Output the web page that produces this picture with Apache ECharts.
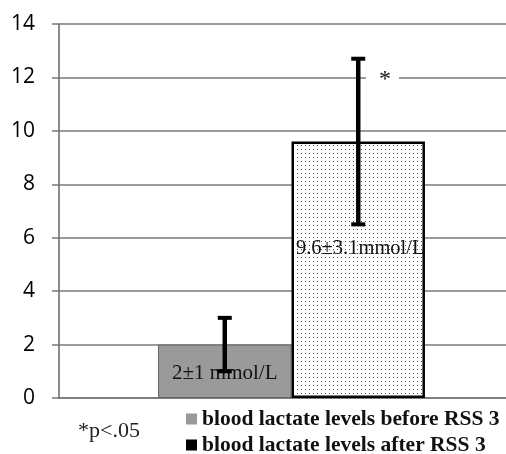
<!DOCTYPE html>
<html><head><meta charset="utf-8">
<script src="https://cdn.jsdelivr.net/npm/echarts@6/dist/echarts.min.js"></script>
<style>html,body{margin:0;padding:0;background:#fff}#c{width:506px;height:454px}</style>
</head><body><div id="c"></div>
<script>
var categories = [''];
var seriesNames = ['blood lactate levels before RSS 3', 'blood lactate levels after RSS 3'];
var beforeValues = [2];
var afterValues = [9.6];
var beforeErr = [[1, 3]];
var afterErr = [[6.5, 12.7]];
var barLabels = ['2±1 mmol/L', '9.6±3.1mmol/L'];
var yTicks = [0, 2, 4, 6, 8, 10, 12, 14];

var GAP = 0.426;
var pat = document.createElement('canvas');
pat.width = 4; pat.height = 4;
var pc = pat.getContext('2d');
pc.fillStyle = '#fff'; pc.fillRect(0, 0, 4, 4);
pc.fillStyle = '#555'; pc.fillRect(1, 1, 1, 1);

var chart = echarts.init(document.getElementById('c'), null, {renderer: 'canvas'});

function errRender(errArr, side) {
  return function (params, api) {
    var i = params.dataIndex;
    var lo = api.coord([i, errArr[i][0]]);
    var hi = api.coord([i, errArr[i][1]]);
    var band = api.size([1, 0])[0];
    var bw = band * (1 - GAP) / 2;
    var x = lo[0] + side * bw / 2;
    var st = {stroke: '#000', lineWidth: 4.5};
    return {type: 'group', children: [
      {type: 'line', shape: {x1: x, y1: lo[1], x2: x, y2: hi[1]}, style: st},
      {type: 'line', shape: {x1: x - 7, y1: hi[1], x2: x + 7, y2: hi[1]}, style: {stroke: '#000', lineWidth: 4}},
      {type: 'line', shape: {x1: x - 7, y1: lo[1], x2: x + 7, y2: lo[1]}, style: {stroke: '#000', lineWidth: 4}}
    ]};
  };
}

function legendFor(idx, top, color) {
  return {orient: 'horizontal', left: 181, top: top, itemWidth: 11, itemHeight: 11,
    icon: 'rect', selectedMode: false,
    textStyle: {fontFamily: 'Liberation Serif', fontWeight: 'bold', fontSize: 21.5, color: '#111'},
    data: [{name: seriesNames[idx], itemStyle: {color: color, borderWidth: 0}}]};
}

chart.setOption({
  animation: false,
  grid: {left: 59, top: 24, bottom: 56, right: -18, outerBoundsMode: 'none', containLabel: false},
  xAxis: {type: 'category', data: categories,
    axisLine: {show: true, lineStyle: {color: '#777', width: 1.5}},
    axisTick: {show: false}, axisLabel: {show: false}},
  yAxis: {type: 'value', min: 0, max: 14, interval: 2,
    axisLine: {show: true, lineStyle: {color: '#666', width: 1.5}},
    axisTick: {show: true, length: 7, lineStyle: {color: '#777', width: 1.5}},
    axisLabel: {color: '#000', fontSize: 21, fontFamily: 'Open Sans', margin: 24,
      formatter: function (v) { return yTicks.indexOf(v) >= 0 ? String(v) : ''; }},
    splitLine: {lineStyle: {color: '#7a7a7a', width: 1.5}}},
  legend: [legendFor(0, 403, '#999'), legendFor(1, 429, '#000')],
  series: [
    {name: seriesNames[0], type: 'bar', data: beforeValues, barGap: '0%', barCategoryGap: (GAP * 100) + '%',
      itemStyle: {color: '#9a9a9a', borderColor: '#666', borderWidth: 1},
      label: {show: true, position: 'inside', offset: [0, 2], formatter: barLabels[0],
        fontFamily: 'Liberation Serif', fontSize: 21, color: '#111'}},
    {name: seriesNames[1], type: 'bar', data: afterValues,
      itemStyle: {color: {image: pat, repeat: 'repeat'}, borderColor: '#000', borderWidth: 2.5},
      label: {show: true, position: 'inside', offset: [2, -21], formatter: barLabels[1],
        fontFamily: 'Liberation Serif', fontSize: 20.5, color: '#111'}},
    {type: 'custom', renderItem: errRender(beforeErr, -1), data: beforeErr.map(function (d, i) { return [i, d[1]]; }), z: 5},
    {type: 'custom', renderItem: errRender(afterErr, 1), data: afterErr.map(function (d, i) { return [i, d[1]]; }), z: 5}
  ],
  graphic: [
    {type: 'rect', shape: {x: 366, y: 68, width: 33, height: 18}, style: {fill: '#fff'}, z: 10},
    {type: 'text', x: 385, y: 80, z: 11, style: {text: '*', fontFamily: 'Liberation Serif', fontSize: 24, fill: '#111', align: 'center', verticalAlign: 'middle'}},
    {type: 'text', x: 78, y: 431, z: 11, style: {text: '*p<.05', fontFamily: 'Liberation Serif', fontSize: 22, fill: '#222', align: 'left', verticalAlign: 'middle'}}
  ]
});
</script></body></html>
